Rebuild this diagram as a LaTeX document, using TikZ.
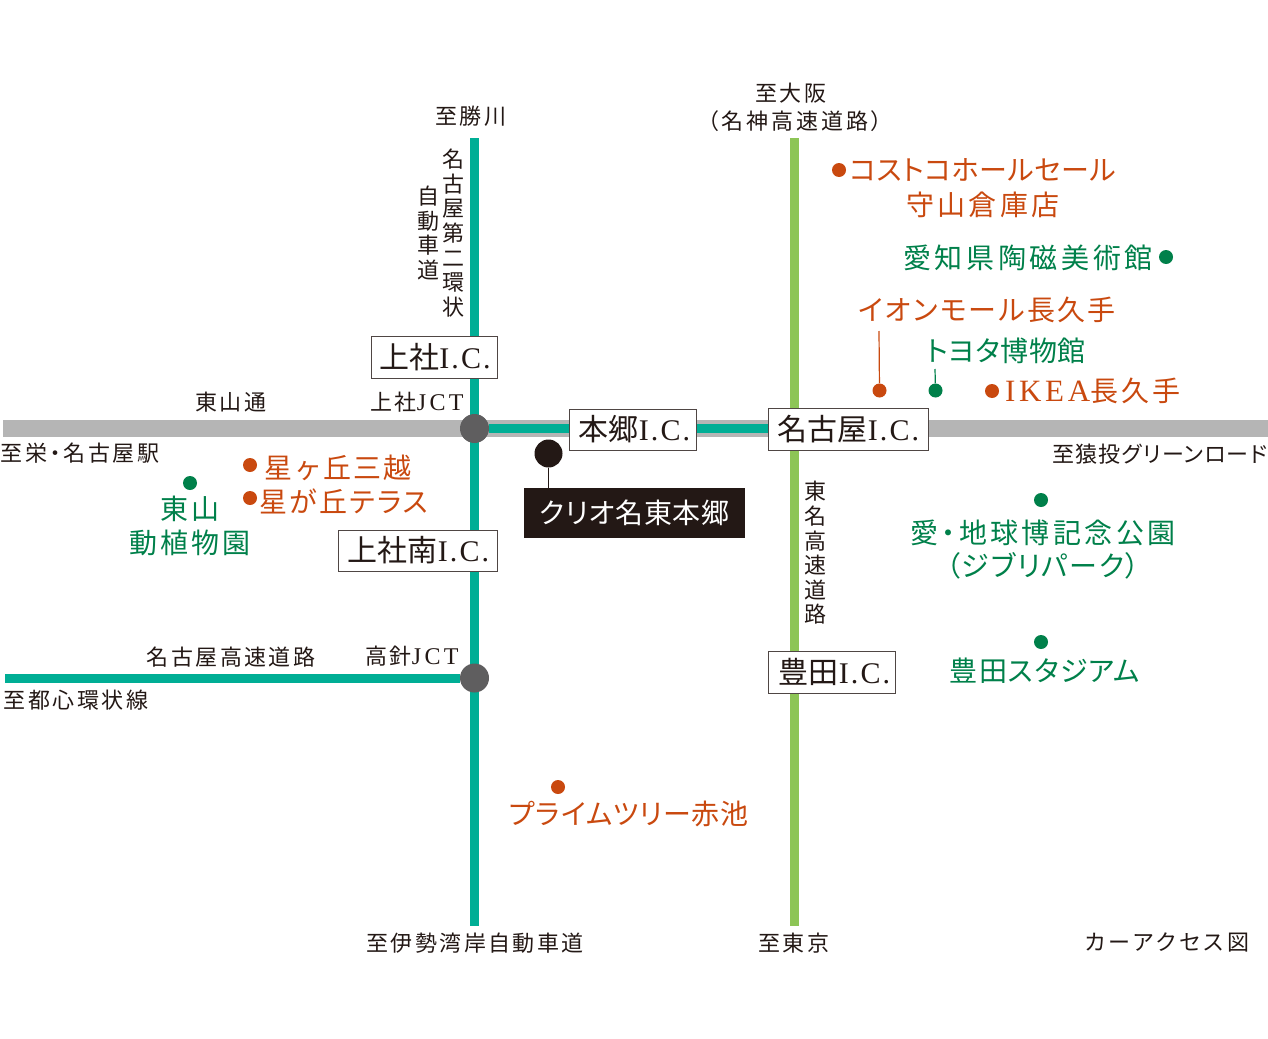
\documentclass[tikz,border=0pt]{standalone}
\usepackage{fontspec}
\setmainfont{Liberation Serif}
\newfontfamily\cjk[LetterSpace=11]{Noto Sans CJK JP}
\newfontfamily\cjkw[LetterSpace=7]{Noto Sans CJK JP}
\newfontfamily\cjkk[LetterSpace=0]{Noto Sans CJK JP}
\newfontfamily\cjkp[RawFeature=+palt,LetterSpace=8]{Noto Sans CJK JP}
\newfontfamily\lat{Liberation Serif}
\newcommand\ls[1]{\addfontfeature{LetterSpace=#1}}
\definecolor{roadgrey}{HTML}{B5B5B5}
\definecolor{teal1}{HTML}{00AE95}
\definecolor{lime1}{HTML}{8DC556}
\definecolor{jct}{HTML}{5F5E5F}
\definecolor{ink}{HTML}{231815}
\definecolor{poiO}{HTML}{C9490F}
\definecolor{poiG}{HTML}{00804A}
\tikzset{
  lbl/.style={inner sep=0pt,text=ink,font=\fontsize{22}{24.4}\selectfont\cjk,align=center},
  lblp/.style={inner sep=0pt,text=ink,font=\fontsize{22}{24.4}\selectfont\cjkp,align=center},
  vlbl/.style={lbl,font=\fontsize{22}{24.6}\selectfont\cjkk},
  poi/.style={inner sep=0pt,font=\fontsize{28}{34}\selectfont\cjkw,align=center},
  poip/.style={inner sep=0pt,font=\fontsize{28}{34}\selectfont\cjkp,align=center},
  poio/.style={poi,text=poiO},
  poig/.style={poi,text=poiG},
  poipo/.style={poip,text=poiO},
  poipg/.style={poip,text=poiG},
  icbox/.style={draw=ink!80,line width=1pt,fill=white,inner sep=0pt,text=ink,font=\fontsize{30}{32}\selectfont\cjkk},
  homebox/.style={fill=ink,inner sep=0pt,text=white,font=\fontsize{28}{30}\selectfont\cjkp},
  dotO/.style={circle,fill=poiO,inner sep=0pt,minimum size=14pt},
  dotG/.style={circle,fill=poiG,inner sep=0pt,minimum size=14pt},
  road/.style={line width=9pt},
}
\newcommand\ic{{\lat\ls{7}I.C.}}
\begin{document}
\begin{tikzpicture}[x=1pt,y=-1pt]
\useasboundingbox (0,0) rectangle (1268,1038);
% road ends
\coordinate (gw) at (3,428.5); \coordinate (ge) at (1268,428.5);
\coordinate (tn) at (474.5,138); \coordinate (ts) at (474.5,926);
\coordinate (ln) at (794,138); \coordinate (ls) at (794,926);
\coordinate (mw) at (5,678); \coordinate (lx) at (794,428.5);
% roads
\draw[roadgrey,line width=17pt] (gw) -- (ge);
\draw[lime1,road] (ln) -- (ls);
\draw[teal1,road] (tn) -- (ts);
\node[circle,fill=jct,inner sep=0pt,minimum size=29pt] (kamiyashiro) at (474.5,428.5) {};
\node[circle,fill=jct,inner sep=0pt,minimum size=29pt] (takabari) at (474.5,678) {};
\draw[teal1,road] (kamiyashiro) -- (lx);
\draw[teal1,road] (mw) -- (takabari);
% IC boxes
\node[icbox,minimum width=126pt,minimum height=42pt] (ic1) at (434,357) {\hspace*{2pt}上社\ic};
\node[icbox,minimum width=159pt,minimum height=41pt] (ic2) at (417.5,550.5) {\hspace*{2pt}上社南\ic};
\node[icbox,minimum width=127pt,minimum height=41pt] (ic3) at (632.5,429.5) {\hspace*{4pt}本郷\ic};
\node[icbox,minimum width=160pt,minimum height=42pt] (ic4) at (848,429) {\hspace*{1pt}名古屋\ic};
\node[icbox,minimum width=127pt,minimum height=42pt] (ic5) at (831.5,672) {\hspace*{6pt}豊田\ic};
% home
\node[homebox,minimum width=221pt,minimum height=50pt] (home) at (634.5,513) {\ls{2.4}クリオ名東本郷};
\node[circle,fill=ink,inner sep=0pt,minimum size=28pt] (homedot) at (548.5,453.5) {};
\draw[ink,line width=1.5pt] (homedot) -- (homedot |- home.north);
% black labels
\node[lbl] (t1) at (471,116) {至勝川};
\node[lbl] (t2) at (791,93) {至大阪};
\node[lblp] (t3) at (795,121) {\ls{13}（名神高速道路）};
\node[vlbl] (v1) at (453,233) {名\\古\\屋\\第\\二\\環\\状};
\node[vlbl] (v2) at (428,233) {自\\動\\車\\道};
\node[vlbl] (v3) at (815,553) {東\\名\\高\\速\\道\\路};
\node[lbl] (t4) at (231,402) {東山通};
\node[lbl] (t5) at (417,402) {上社{\lat\fontsize{24}{26}\selectfont\ls{14}JCT}};
\node[lblp] (t6) at (80,453) {\ls{12}至栄・名古屋駅};
\node[lblp] (t7) at (1160,454) {\ls{5}至猿投グリーンロード};
\node[lbl] (t8) at (231,657) {名古屋高速道路};
\node[lbl] (t9) at (412,656) {高針{\lat\fontsize{24}{26}\selectfont\ls{14}JCT}};
\node[lbl] (t10) at (76,700) {至都心環状線};
\node[lbl] (t11) at (475,943) {至伊勢湾岸自動車道};
\node[lbl] (t12) at (794,943) {至東京};
\node[lblp] (t13) at (1167,942) {\ls{16}カーアクセス図};
% POIs west
\node[dotO] (d1) at (250,465) {};
\node[poio] (p1) at (338,468) {星ヶ丘三越};
\node[dotO] (d2) at (250,498) {};
\node[poipo] (p2) at (344,501) {星が丘テラス};
\node[dotG] (d3) at (190,483) {};
\node[poig] (p3) at (190,526) {\ls{10}東山\\\ls{10}動植物園};
% POIs northeast
\node[dotO] (d4) at (839,170) {};
\node[poipo] (p4) at (983,170) {\ls{2}コストコホールセール};
\node[poio] (p5) at (983,205) {\ls{11}守山倉庫店};
\node[dotG] (d5) at (1166,257) {};
\node[poig] (p6) at (1028,258) {\ls{13}愛知県陶磁美術館};
\node[poipo] (p7) at (987,310) {イオンモール長久手};
\coordinate (aeonend) at (879,331);
\node[dotO] (d7) at (879.5,390.5) {};
\draw[poiO,line width=1.2pt] (aeonend) -- (d7);
\node[poipg] (p8) at (1006,351) {\ls{2}トヨタ博物館};
\coordinate (toyotaend) at (935,369);
\node[dotG] (d8) at (935.5,390.5) {};
\draw[poiG,line width=1.2pt] (toyotaend) -- (d8);
\node[dotO] (d9) at (992,391) {};
\node[poio] (p9) at (1093,391) {{\lat\fontsize{31}{34}\selectfont\ls{12}IKEA}\ls{12}長久手};
% POIs southeast
\node[dotG] (d10) at (1041,500) {};
\node[poipg] (p10) at (1043,533) {\ls{12}愛・地球博記念公園};
\node[poipg] (p11) at (1043,566) {\ls{6}（ジブリパーク）};
\node[dotG] (d11) at (1041,642) {};
\node[poipg] (p12) at (1045,671) {\ls{4}豊田スタジアム};
\node[dotO] (d12) at (558,787) {};
\node[poipo] (p13) at (629,814) {\ls{3}プライムツリー赤池};
\end{tikzpicture}
\end{document}
